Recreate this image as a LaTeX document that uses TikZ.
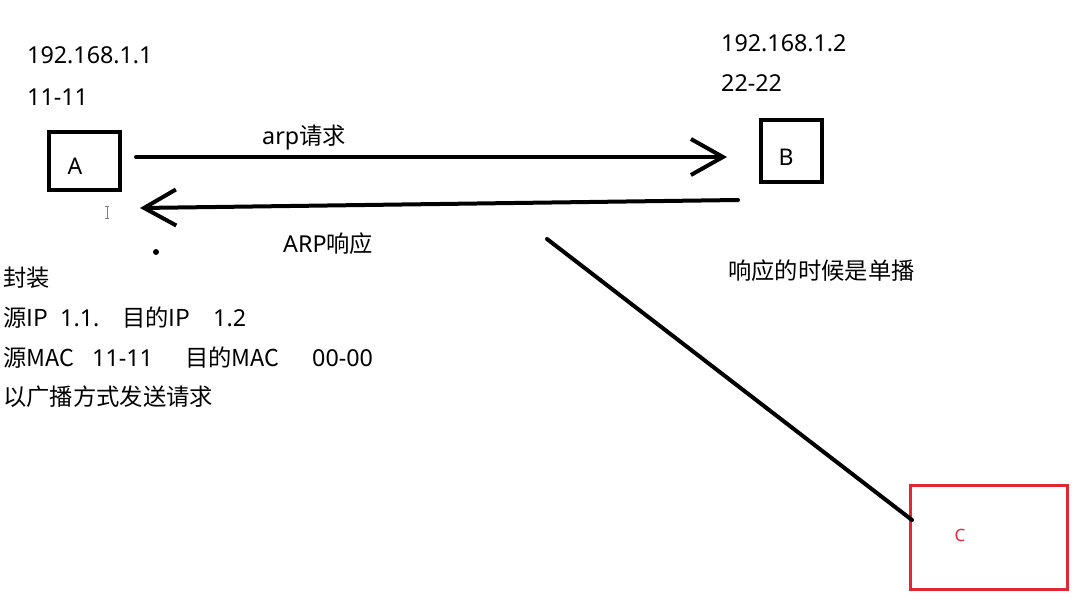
\documentclass[tikz,border=0pt]{standalone}
\usepackage{fontspec}
\setmainfont{Noto Sans}
\newfontfamily\cjk{Noto Sans CJK SC}
\usetikzlibrary{positioning, arrows.meta, calc}
\definecolor{cred}{RGB}{226,38,52}

\begin{document}
\begin{tikzpicture}[x=1pt, y=-1pt,
    txt/.style={anchor=west, inner sep=0pt, text height=20pt, text depth=4pt, font=\fontsize{23.3}{27}\selectfont},
    host/.style={rectangle, draw, line width=4pt},
    hostname/.style={inner sep=0pt, font=\fontsize{23}{27}\selectfont},
    hostc/.style={rectangle, draw=cred, line width=3pt, minimum width=157pt, minimum height=104pt},
    arrow/.style={-{Straight Barb[length=32pt, width=36pt]}, line width=4pt, line cap=round},
    link/.style={line width=4pt, line cap=round}]

\useasboundingbox (0,0) rectangle (1091,606);

% Nodes
\node [host, minimum width=71pt, minimum height=58pt] (A) at (84.5,161) {};
\node [host, minimum width=61pt, minimum height=62pt] (B) at (791.5,151) {};
\node [hostc] (C) at (989,537.5) {};
\node [hostname] (Aname) at ($(A.center)+(-9.5,5)$) {A};
\node [hostname] (Bname) at ($(B.center)+(-5.5,6)$) {B};
\node [hostname, text=cred, font=\fontsize{17}{20}\selectfont] (Cname) at ($(C.center)+(-29,-2)$) {C};

\node [txt] (ipA) at (27,55) {192.168.1.1};
\node [txt] (macA) at (27,97) {11-11};
\node [txt] (ipB) at (721,43) {192.168.1.2};
\node [txt] (macB) at (721,83) {22-22};
\node [txt] (req) at (262,136) {arp\cjk{请求}};
\node [txt] (rsp) at (283,244) {ARP\cjk{响应}};
\node [txt] (unicast) at (728,271) {\cjk{响应的时候是单播}};

% Notes under A
\node [txt] (pack) at (3,278) {\cjk{封装}};
\node [txt] (ipline) at (3,318) {\makebox[57pt][l]{\cjk{源}IP}\makebox[62pt][l]{1.1.}\makebox[91pt][l]{\cjk{目的}IP}1.2};
\node [txt] (macline) at (3,358) {\makebox[89pt][l]{\cjk{源}MAC}\makebox[93pt][l]{11-11}\makebox[127pt][l]{\cjk{目的}MAC}00-00};
\node [txt] (bcast) at (3,397) {\cjk{以广播方式发送请求}};

% Marks
\fill (156,252) circle (3pt);
\draw [gray, line width=0.8pt] (105,206) -- (109,206) (107,206) -- (107,218) (105,218) -- (109,218);

% Arrows
\coordinate (reqy) at (0,157);
\draw [arrow, shorten <=14pt, shorten >=32pt] (A.east |- reqy) -- (B.west |- reqy);
\draw [arrow] ($(B.south west)+(-21,16)$) -- ($(A.south east)+(18,16)$);
\draw [link] ($(B.south west)+(-212,55)$) -- ($(C.north west)+(3,36)$);

\end{tikzpicture}
\end{document}
